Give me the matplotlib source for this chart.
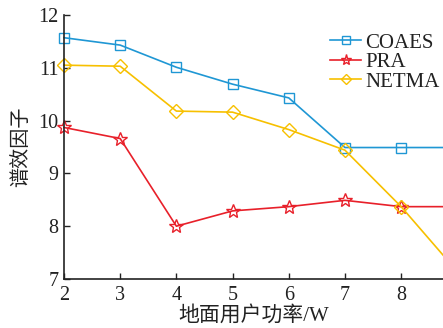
import matplotlib
matplotlib.use("Agg")
import matplotlib.pyplot as plt

# data
power = [2, 3, 4, 5, 6, 7, 8, 9]
coaes = [11.57, 11.43, 11.01, 10.69, 10.43, 9.49, 9.49, 9.49]
pra = [9.87, 9.66, 8.00, 8.29, 8.37, 8.49, 8.37, 8.37]
netma = [11.05, 11.03, 10.18, 10.16, 9.83, 9.44, 8.37, 7.14]

plt.rcParams['font.family'] = ['Liberation Serif', 'Noto Sans CJK SC']

fig = plt.figure(figsize=(4.43, 3.28), dpi=100)
ax = fig.add_axes([64 / 443, 1 - 279 / 328, 1 - 64 / 443, (279 - 15) / 328])

ax.plot(power, coaes, color='#1f97d4', lw=1.2, marker='s', ms=7, mfc='none',
        mew=1.0, label='COAES', clip_on=False)
ax.plot(power, pra, color='#e8202a', lw=1.2, marker='*', ms=10, mfc='none',
        mew=1.0, label='PRA', clip_on=False)
ax.plot(power, netma, color='#f7c000', lw=1.2, marker='D', ms=7, mfc='none',
        mew=1.0, label='NETMA', clip_on=False)

ax.set_xlim(2, 8.745)
ax.set_ylim(7, 12)
ax.set_xticks([2, 3, 4, 5, 6, 7, 8])
ax.set_yticks([7, 8, 9, 10, 11, 12])
ax.tick_params(direction='in', length=4, width=1, labelsize=14.5,
               colors='#222222')
ax.tick_params(axis='x', pad=5)
ax.tick_params(axis='y', pad=4)
ax.spines['top'].set_visible(False)
ax.spines['right'].set_visible(False)
for s in ('left', 'bottom'):
    ax.spines[s].set_linewidth(1.2)
    ax.spines[s].set_color('#222222')

ax.set_xlabel('地面用户功率/W', fontsize=15, labelpad=1, color='#222222')
ax.set_ylabel('谱效因子', fontsize=14.5, labelpad=5, color='#222222')

leg = ax.legend(loc='upper left', bbox_to_anchor=((330 - 64) / (443 - 64), 1 - 18 / 264),
                frameon=False, fontsize=15, handlelength=1.5, handletextpad=0.2,
                labelspacing=0.0, borderaxespad=0, borderpad=0, markerscale=0.8)
for t in leg.get_texts():
    t.set_color('#222222')

fig.savefig('out.png', dpi=100)
